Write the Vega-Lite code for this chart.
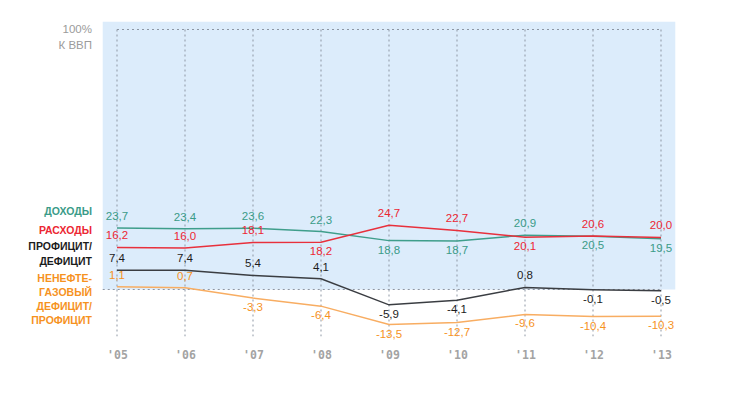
{
  "$schema": "https://vega.github.io/schema/vega-lite/v6.json",
  "width": 737,
  "height": 395,
  "autosize": "none",
  "padding": 0,
  "background": "#ffffff",
  "config": {
    "view": {"stroke": null},
    "locale": {"number": {"decimal": ",", "thousands": " ", "grouping": [3], "currency": ["", ""], "minus": "-"}}
  },
  "datasets": {
    "d": [
      {"year": 2005, "series": "rev", "value": 23.7, "side": "u"},
      {"year": 2006, "series": "rev", "value": 23.4, "side": "u"},
      {"year": 2007, "series": "rev", "value": 23.6, "side": "u"},
      {"year": 2008, "series": "rev", "value": 22.3, "side": "u"},
      {"year": 2009, "series": "rev", "value": 18.8, "side": "d"},
      {"year": 2010, "series": "rev", "value": 18.7, "side": "d"},
      {"year": 2011, "series": "rev", "value": 20.9, "side": "u"},
      {"year": 2012, "series": "rev", "value": 20.5, "side": "d"},
      {"year": 2013, "series": "rev", "value": 19.5, "side": "d"},
      {"year": 2005, "series": "exp", "value": 16.2, "side": "u"},
      {"year": 2006, "series": "exp", "value": 16.0, "side": "u"},
      {"year": 2007, "series": "exp", "value": 18.1, "side": "u"},
      {"year": 2008, "series": "exp", "value": 18.2, "side": "d"},
      {"year": 2009, "series": "exp", "value": 24.7, "side": "u"},
      {"year": 2010, "series": "exp", "value": 22.7, "side": "u"},
      {"year": 2011, "series": "exp", "value": 20.1, "side": "d"},
      {"year": 2012, "series": "exp", "value": 20.6, "side": "u"},
      {"year": 2013, "series": "exp", "value": 20.0, "side": "u"},
      {"year": 2005, "series": "bal", "value": 7.4, "side": "u"},
      {"year": 2006, "series": "bal", "value": 7.4, "side": "u"},
      {"year": 2007, "series": "bal", "value": 5.4, "side": "u"},
      {"year": 2008, "series": "bal", "value": 4.1, "side": "u"},
      {"year": 2009, "series": "bal", "value": -5.9, "side": "d"},
      {"year": 2010, "series": "bal", "value": -4.1, "side": "d"},
      {"year": 2011, "series": "bal", "value": 0.8, "side": "u"},
      {"year": 2012, "series": "bal", "value": -0.1, "side": "d"},
      {"year": 2013, "series": "bal", "value": -0.5, "side": "d"},
      {"year": 2005, "series": "non", "value": 1.1, "side": "u"},
      {"year": 2006, "series": "non", "value": 0.7, "side": "u"},
      {"year": 2007, "series": "non", "value": -3.3, "side": "d"},
      {"year": 2008, "series": "non", "value": -6.4, "side": "d"},
      {"year": 2009, "series": "non", "value": -13.5, "side": "d"},
      {"year": 2010, "series": "non", "value": -12.7, "side": "d"},
      {"year": 2011, "series": "non", "value": -9.6, "side": "d"},
      {"year": 2012, "series": "non", "value": -10.4, "side": "d"},
      {"year": 2013, "series": "non", "value": -10.3, "side": "d"}
    ],
    "names": [
      {"series": "rev", "name": "ДОХОДЫ"},
      {"series": "exp", "name": "РАСХОДЫ"},
      {"series": "bal", "name": "ПРОФИЦИТ/\nДЕФИЦИТ"},
      {"series": "non", "name": "НЕНЕФТЕ-\nГАЗОВЫЙ\nДЕФИЦИТ/\nПРОФИЦИТ"}
    ]
  },
  "data": {"name": "d"},
  "layer": [
    {
      "data": {"values": [{}]},
      "mark": {"type": "rect", "color": "#dcecfb"},
      "encoding": {
        "x": {"datum": 2004.79, "type": "quantitative", "scale": {"domain": [2003.2794, 2014.1176], "nice": false, "zero": false}, "axis": {"orient": "bottom", "offset": -40, "domain": false, "ticks": false, "grid": false, "values": [2005, 2006, 2007, 2008, 2009, 2010, 2011, 2012, 2013], "labelExpr": "\"'\" + slice(toString(datum.value), 2)", "labelFont": "DejaVu Sans Mono", "labelFontWeight": "bold", "labelFontSize": 11.5, "labelColor": "#a3a3a3", "labelPadding": 0, "labelBaseline": "middle", "labelFlush": false, "title": null}},
        "x2": {"datum": 2013.21},
        "y": {"datum": 0, "type": "quantitative", "scale": {"domain": [-40.58, 111.35], "nice": false, "zero": false}, "axis": null},
        "y2": {"datum": 103}
      }
    },
    {
      "transform": [{"filter": "datum.series == 'rev'"}],
      "mark": {"type": "rule", "stroke": "#8d96a3", "strokeDash": [2, 3], "strokeWidth": 1},
      "encoding": {
        "x": {"field": "year", "type": "quantitative"},
        "y": {"datum": 100, "type": "quantitative"},
        "y2": {"datum": -18}
      }
    },
    {
      "data": {"values": [{}]},
      "mark": {"type": "rule", "stroke": "#8d96a3", "strokeDash": [2, 3], "strokeWidth": 1},
      "encoding": {
        "x": {"datum": 2005, "type": "quantitative"},
        "x2": {"datum": 2013},
        "y": {"datum": 100, "type": "quantitative"}
      }
    },
    {
      "data": {"values": [{}]},
      "mark": {"type": "rule", "stroke": "#8d96a3", "strokeDash": [2, 3], "strokeWidth": 1},
      "encoding": {
        "x": {"datum": 2004.79, "type": "quantitative"},
        "x2": {"datum": 2013},
        "y": {"datum": 0, "type": "quantitative"}
      }
    },
    {
      "mark": {"type": "line", "strokeWidth": 1.5},
      "encoding": {
        "x": {"field": "year", "type": "quantitative"},
        "y": {"field": "value", "type": "quantitative"},
        "detail": {"field": "series"},
        "stroke": {"field": "series", "type": "nominal", "scale": {"domain": ["rev", "exp", "bal", "non"], "range": ["#3f9e8b", "#e8303c", "#3a3d42", "#f8ad62"]}, "legend": null}
      }
    },
    {
      "transform": [{"filter": "datum.side == 'u'"}],
      "mark": {"type": "text", "dy": -11, "baseline": "middle", "align": "center", "font": "Liberation Sans", "fontSize": 11.5},
      "encoding": {
        "x": {"field": "year", "type": "quantitative"},
        "y": {"field": "value", "type": "quantitative"},
        "text": {"field": "value", "type": "quantitative", "format": ".1f"},
        "color": {"field": "series", "type": "nominal", "scale": {"domain": ["rev", "exp", "bal", "non"], "range": ["#3a9b88", "#ec2733", "#1c1c1c", "#f6921e"]}, "legend": null}
      }
    },
    {
      "transform": [{"filter": "datum.side == 'd'"}],
      "mark": {"type": "text", "dy": 10, "baseline": "middle", "align": "center", "font": "Liberation Sans", "fontSize": 11.5},
      "encoding": {
        "x": {"field": "year", "type": "quantitative"},
        "y": {"field": "value", "type": "quantitative"},
        "text": {"field": "value", "type": "quantitative", "format": ".1f"},
        "color": {"field": "series", "type": "nominal", "legend": null}
      }
    },
    {
      "transform": [
        {"filter": "datum.year == 2005 && (datum.series == 'rev' || datum.series == 'exp')"},
        {"lookup": "series", "from": {"data": {"name": "names"}, "key": "series", "fields": ["name"]}}
      ],
      "mark": {"type": "text", "align": "right", "baseline": "middle", "dx": -25, "dy": -16, "font": "Liberation Sans", "fontWeight": "bold", "fontSize": 10.5, "lineBreak": "\n", "lineHeight": 14.5},
      "encoding": {
        "x": {"field": "year", "type": "quantitative"},
        "y": {"field": "value", "type": "quantitative"},
        "text": {"field": "name"},
        "color": {"field": "series", "type": "nominal", "legend": null}
      }
    },
    {
      "transform": [
        {"filter": "datum.year == 2005 && datum.series == 'bal'"},
        {"lookup": "series", "from": {"data": {"name": "names"}, "key": "series", "fields": ["name"]}}
      ],
      "mark": {"type": "text", "align": "right", "baseline": "middle", "dx": -25, "dy": -23, "font": "Liberation Sans", "fontWeight": "bold", "fontSize": 10.5, "lineBreak": "\n", "lineHeight": 15},
      "encoding": {
        "x": {"field": "year", "type": "quantitative"},
        "y": {"field": "value", "type": "quantitative"},
        "text": {"field": "name"},
        "color": {"field": "series", "type": "nominal", "legend": null}
      }
    },
    {
      "transform": [
        {"filter": "datum.year == 2005 && datum.series == 'non'"},
        {"lookup": "series", "from": {"data": {"name": "names"}, "key": "series", "fields": ["name"]}}
      ],
      "mark": {"type": "text", "align": "right", "baseline": "middle", "dx": -25, "dy": -8, "font": "Liberation Sans", "fontWeight": "bold", "fontSize": 10.5, "lineBreak": "\n", "lineHeight": 14},
      "encoding": {
        "x": {"field": "year", "type": "quantitative"},
        "y": {"field": "value", "type": "quantitative"},
        "text": {"field": "name"},
        "color": {"field": "series", "type": "nominal", "legend": null}
      }
    },
    {
      "data": {"values": [{"label": "100%\nК ВВП"}]},
      "mark": {"type": "text", "align": "right", "baseline": "middle", "dx": -25, "dy": 0, "font": "Liberation Sans", "fontSize": 11.5, "color": "#9b9b9b", "lineBreak": "\n", "lineHeight": 16},
      "encoding": {
        "x": {"datum": 2005, "type": "quantitative"},
        "y": {"datum": 100, "type": "quantitative"},
        "text": {"field": "label"}
      }
    }
  ]
}
